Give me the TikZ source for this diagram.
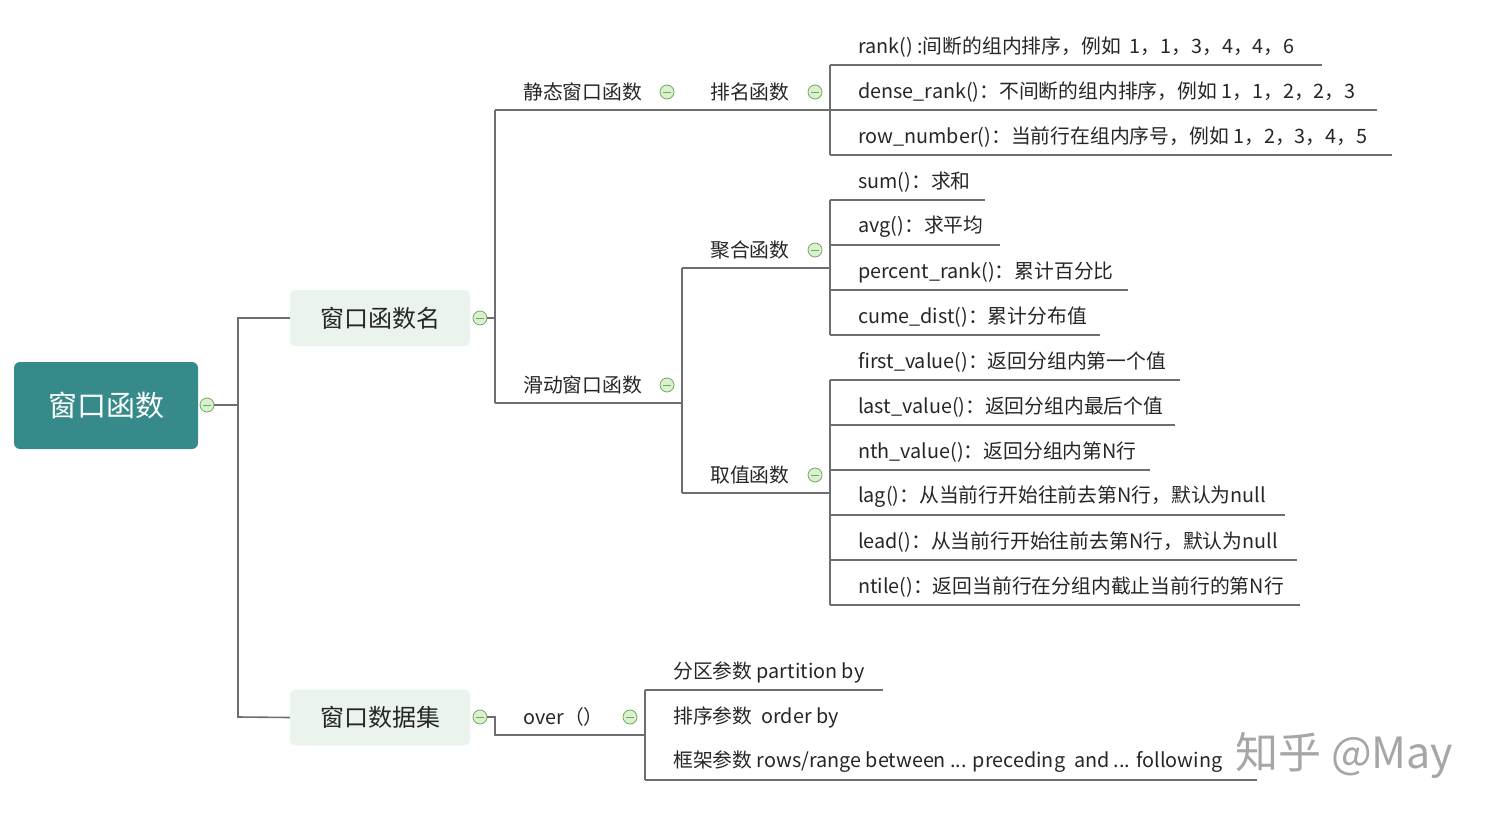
\documentclass[tikz,border=0pt]{standalone}
\usepackage{fontspec}
\setmainfont{Noto Sans CJK SC}
\definecolor{teal1}{RGB}{55,138,138}
\definecolor{lfill}{RGB}{235,243,237}
\definecolor{lc}{RGB}{110,110,110}
\definecolor{cf}{RGB}{218,240,208}
\definecolor{cs}{RGB}{110,170,90}
\begin{document}
\begin{tikzpicture}[x=1pt,y=-1pt,
  ln/.style={draw=lc,line width=1.6pt},
  t/.style={anchor=west,inner sep=0pt,font=\fontsize{19.8}{22}\selectfont,text=black!85},
  col/.style={circle,draw=cs,fill=cf,minimum size=14pt,inner sep=0pt,line width=0.8pt,
     path picture={\draw[cs,line width=0.9pt] ([xshift=-4pt]path picture bounding box.center)--([xshift=4pt]path picture bounding box.center);}},
  box/.style={rounded corners=5pt,fill=lfill,minimum width=180pt,minimum height=56pt,font=\fontsize{24}{26}\selectfont,text=black!85}]
\useasboundingbox (0,0) rectangle (1509,824);
% root
\node[rounded corners=6pt,fill=teal1,minimum width=184pt,minimum height=87pt,text=white,font=\fontsize{29}{32}\selectfont] (root) at (106,405.5) {窗口函数};
\node[col] (c0) at (207,405) {};
\node[box] (n1) at (380,318) {窗口函数名};
\node[box] (n2) at (380,717.5) {窗口数据集};
\coordinate (v0t) at (238,318); \coordinate (v0b) at (238,717);
\draw[ln] (c0) -- (238,405);
\draw[ln] (n1.west) -- (v0t) -- (v0b) -- (n2.west);
\node[col] (c1) at (480,318) {};
\node[col] (c2) at (480,717) {};
% level 2 top
\draw[ln] (c1) -- (495,318);
\draw[ln] (495,110) -- (495,403);
\node[t] (s1) at (523,92) {静态窗口函数};
\node[col] (cs1) at (667,92) {};
\node[t] (s2) at (523,385) {滑动窗口函数};
\node[col] (cs2) at (667,385) {};
\draw[ln] (495,110) -- (830,110);
\draw[ln] (495,403) -- (682,403);
\node[t] (p1) at (710,92) {排名函数};
\node[col] (cp1) at (815,92) {};
\draw[ln] (682,268) -- (682,493);
\node[t] (p2) at (710,250) {聚合函数};
\node[col] (cp2) at (815,250) {};
\node[t] (p3) at (710,475) {取值函数};
\node[col] (cp3) at (815,475) {};
\draw[ln] (682,268) -- (830,268);
\draw[ln] (682,493) -- (830,493);
% leaves
\newcommand\leaf[4]{\node[t] (#1) at (858,#2-18) {#4}; \draw[ln] (830,#2) -- (#3,#2);}
\draw[ln] (830,65) -- (830,155);
\leaf{a1}{65}{1322}{rank() :间断的组内排序，例如 \ 1，1，3，4，4，6}
\leaf{a2}{110}{1377}{dense\_rank()：不间断的组内排序，例如 1，1，2，2，3}
\leaf{a3}{155}{1392}{row\_number()：当前行在组内序号，例如 1，2，3，4，5}
\draw[ln] (830,200) -- (830,335);
\leaf{b1}{200}{985}{sum()：求和}
\leaf{b2}{245}{1000}{avg()：求平均}
\leaf{b3}{290}{1128}{percent\_rank()：累计百分比}
\leaf{b4}{335}{1100}{cume\_dist()：累计分布值}
\draw[ln] (830,380) -- (830,605);
\leaf{d1}{380}{1180}{first\_value()：返回分组内第一个值}
\leaf{d2}{425}{1175}{last\_value()：返回分组内最后个值}
\leaf{d3}{470}{1150}{nth\_value()：返回分组内第N行}
\leaf{d4}{515}{1285}{lag()：从当前行开始往前去第N行，默认为null}
\leaf{d5}{560}{1297}{lead()：从当前行开始往前去第N行，默认为null}
\leaf{d6}{605}{1300}{ntile()：返回当前行在分组内截止当前行的第N行}
% bottom
\draw[ln] (c2) -- (495,717) -- (495,735) -- (645,735);
\node[t] (ov) at (523,717) {over（）};
\node[col] (cov) at (630,717) {};
\draw[ln] (645,690) -- (645,780);
\node[t] (e1) at (673,672) {分区参数 partition by};
\node[t] (e2) at (673,717) {排序参数 \ order by};
\node[t] (e3) at (673,762) {框架参数 rows/range between ... preceding \ and ... following};
\draw[ln] (645,690) -- (883,690);
\draw[ln] (645,780) -- (1257,780);
\node[anchor=west,text=black!35,font=\fontsize{43}{46}\selectfont] (wm) at (1232,755) {知乎 @May};
\end{tikzpicture}
\end{document}
